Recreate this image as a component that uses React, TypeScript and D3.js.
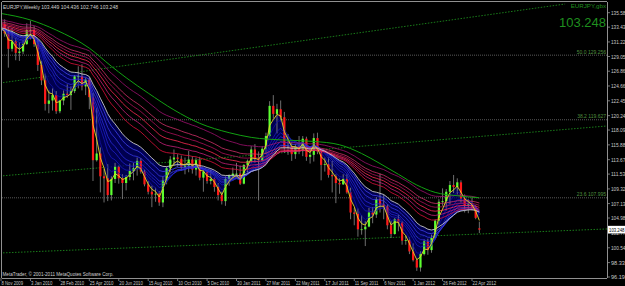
import React from "react";
import * as d3 from "d3";

const opens = [133.0,133.9,132.5,130.2,131.3,129.6,129.8,130.9,133.0,133.0,130.9,127.8,125.5,122.0,122.5,123.3,120.9,122.5,123.5,123.3,123.9,126.1,126.1,124.6,125.6,123.0,113.6,114.6,111.2,110.9,108.4,110.8,112.6,110.9,110.2,111.1,112.0,112.4,113.5,111.9,110.0,108.9,108.5,108.6,107.3,110.6,112.4,113.7,114.0,113.8,112.6,112.8,113.7,112.2,113.6,111.0,111.9,110.5,110.8,109.6,108.4,107.5,110.8,111.3,111.6,111.6,110.1,112.9,113.5,115.2,113.8,113.6,115.3,117.2,121.7,120.5,121.2,120.0,115.5,115.6,114.5,115.6,115.0,116.8,114.1,114.4,116.9,114.9,112.9,113.0,111.4,111.2,110.2,110.0,110.8,108.8,105.8,105.6,103.3,103.3,103.7,105.8,105.5,107.8,107.0,106.7,103.9,102.6,104.8,104.3,101.6,101.7,100.0,98.7,97.6,99.6,101.5,100.2,102.0,104.6,107.4,107.5,108.9,109.9,109.6,110.3,107.9,106.9,107.0,106.5,103.449];
const highs = [134.4,134.6,133.5,133.3,131.8,131.2,131.5,134.0,134.4,133.6,131.6,128.4,126.5,124.0,124.3,123.9,122.6,124.0,124.9,124.6,126.3,127.6,127.9,125.9,125.9,123.6,121.4,115.5,112.3,113.0,111.2,113.2,112.8,111.5,111.4,113.1,113.2,114.0,113.9,112.2,110.5,109.8,109.5,109.0,111.2,112.6,114.2,115.2,114.5,114.3,114.0,115.0,114.2,114.0,114.1,112.3,112.0,112.2,111.0,110.2,108.9,111.2,111.5,112.5,113.2,112.8,113.0,113.7,115.7,116.0,114.9,115.7,117.7,122.4,123.3,122.0,122.5,120.8,117.5,116.3,116.0,117.2,117.2,117.1,115.7,117.6,117.7,115.0,114.0,114.0,113.5,111.5,110.9,111.5,111.5,109.5,106.5,106.4,105.4,104.5,106.5,106.6,108.1,111.6,108.5,107.0,104.6,105.0,105.4,104.5,102.4,102.1,101.2,98.9,100.0,101.8,101.9,102.5,104.8,107.8,109.4,109.3,110.5,111.4,110.9,110.6,108.5,107.8,108.0,106.9,104.436];
const lows = [132.3,132.0,127.4,129.8,128.5,128.4,129.4,130.8,131.6,130.5,126.9,124.8,121.0,120.6,121.0,120.5,120.6,121.8,122.9,121.1,123.6,124.3,124.0,123.3,121.2,110.5,113.4,108.8,107.3,107.5,107.6,110.2,110.1,107.8,109.1,110.6,110.6,111.3,111.6,109.7,108.5,106.6,107.4,106.8,106.6,110.0,111.8,112.8,112.6,112.0,111.5,111.8,111.6,111.3,110.6,108.9,110.1,110.0,108.9,107.6,107.0,106.8,109.8,110.5,111.0,109.9,110.0,111.7,113.2,113.2,107.6,113.4,114.5,117.0,119.8,117.6,119.4,114.7,114.4,113.5,113.8,114.5,114.2,113.5,113.1,113.4,114.5,110.6,111.9,111.0,108.8,107.2,108.6,109.9,108.6,104.8,103.9,102.2,102.5,100.8,103.6,104.2,105.0,105.8,104.8,103.3,102.0,102.5,103.0,101.0,101.0,99.6,98.5,97.1,97.0,99.4,99.5,99.8,101.8,104.0,106.8,106.1,107.0,108.7,108.5,107.3,105.8,105.7,106.1,104.8,102.746];
const closes = [133.9,132.5,130.2,131.3,129.6,129.8,130.9,133.0,133.0,130.9,127.8,125.5,122.0,122.5,123.3,120.9,122.5,123.5,123.3,123.9,126.1,126.1,124.6,125.6,123.0,113.6,114.6,111.2,110.9,108.4,110.8,112.6,110.9,110.2,111.1,112.0,112.4,113.5,111.9,110.0,108.9,108.5,108.6,107.3,110.6,112.4,113.7,114.0,113.8,112.6,112.8,113.7,112.2,113.6,111.0,111.9,110.5,110.8,109.6,108.4,107.5,110.8,111.3,111.6,111.6,110.1,112.9,113.5,115.2,113.8,113.6,115.3,117.2,121.7,120.5,121.2,120.0,115.5,115.6,114.5,115.6,115.0,116.8,114.1,114.4,116.9,114.9,112.9,113.0,111.4,111.2,110.2,110.0,110.8,108.8,105.8,105.6,103.3,103.3,103.7,105.8,105.5,107.8,107.0,106.7,103.9,102.6,104.8,104.3,101.6,101.7,100.0,98.7,97.6,99.6,101.5,100.2,102.0,104.6,107.4,107.5,108.9,109.9,109.6,110.3,107.9,106.9,107.0,106.5,105.0,103.248];

const dateLabels = ["8 Nov 2009","3 Jan 2010","28 Feb 2010","25 Apr 2010","20 Jun 2010","15 Aug 2010","10 Oct 2010","5 Dec 2010","30 Jan 2011","27 Mar 2011","22 May 2011","17 Jul 2011","11 Sep 2011","6 Nov 2011","1 Jan 2012","26 Feb 2012","22 Apr 2012"];
const dateLabelBars = [0,8,16,24,32,40,48,56,64,72,80,88,96,104,112,120,128];

const priceTicks = [135.585,133.435,131.225,129.055,126.865,124.660,122.450,120.240,118.095,115.885,113.675,111.530,109.320,107.135,104.980,102.770,100.545,98.335,96.190];

const fastPeriods = [5,8,10,12,15,18];
const fastSeeds = [133.0,133.0,133.1,133.1,133.2,133.2];
const slowPeriods = [30,35,40,45,50,60];
const slowSeeds = [133.4,133.6,133.8,134.0,134.2,134.5];
const slowColors = ["#e0103c","#c8207a","#ff2a55","#b0105a","#d0306a","#a01070"];
const yellowPeriod = 3;
const whitePeriod = 21;

// slow green average at these bars
const greenBars = [-0.3,8,15,24,30,34,40,47,54,62,68,77,85,92,98,103,108,113,118,124,130];
const greenValues = [135.5,134.5,133.0,130.3,127.6,125.9,123.6,121.1,119.1,117.7,117.0,116.6,116.4,115.9,114.6,113.1,111.5,109.9,108.8,108.3,108.0];

const fibLabels = ["50.0 129.256","38.2 119.627","23.6 107.995"];
const fibValues = [129.256,119.627,107.995];

// trend lines: [barA, priceA, barB, priceB]
const trendA = [-0.27,125.10,153.3,136.88];
const trendB = [-0.27,111.24,164.7,118.70];
const trendC = [-0.27,99.77,164.7,103.35];

function ema(period: number, seed: number): number[] {
  const a = 2 / (period + 1);
  const out: number[] = [];
  let e = seed;
  closes.forEach((c, i) => {
    if (i > 0) e = e + a * (c - e);
    out.push(e);
  });
  return out;
}

export default function App() {
  const W = 625, H = 286;
  const left = 2, right = 607, top = 2, bottom = 278;
  const x = d3.scaleLinear().domain([0, 128]).range([1, 472]);
  const y = d3.scaleLinear().domain([96.19, 135.585]).range([277, 12.7]);
  const line = d3.line<number>().x((_, i) => x(i)).y((d) => y(d));
  const gLine = d3.line<number>().x((_, i) => x(greenBars[i])).y((d) => y(d)).curve(d3.curveMonotoneX);

  const fast = fastPeriods.map((p, k) => ema(p, fastSeeds[k]));
  const slow = slowPeriods.map((p, k) => ema(p, slowSeeds[k]));
  const yel = ema(yellowPeriod, 133.2);
  const wht = ema(whitePeriod, 133.3);

  const area = d3.area<number>().x((_, i) => x(i)).y0((d) => y(d)).y1((_, i) => y(wht[i]));
  const blueCols = ["#1010a0","#1818b8","#2020c8","#2a2ad8","#3535e0","#4040f0"];
  const font = "'Liberation Sans', Arial, sans-serif";
  const tl = (t: number[]) => ({ x1: x(t[0]), y1: y(t[1]), x2: x(t[2]), y2: y(t[3]) });
  const last = closes[closes.length - 1];

  return (
    <svg width={W} height={H} style={{ position: "absolute", left: 0, top: 0, background: "#000" }} fontFamily={font}>
      <rect x={0} y={0} width={W} height={H} fill="#000" />
      <defs>
        <clipPath id="plot"><rect x={left} y={top} width={right - left} height={bottom - top} /></clipPath>
      </defs>
      <g clipPath="url(#plot)">
        {fibValues.map((v, k) => (
          <line key={"f" + k} x1={left} x2={right} y1={y(v)} y2={y(v)} stroke="#707070" strokeWidth={0.8} strokeDasharray="1,1" />
        ))}
        {[trendA, trendB, trendC].map((t, k) => (
          <line key={"t" + k} {...tl(t)} stroke="#1f9a1f" strokeWidth={0.8} strokeDasharray="1.5,1.5" />
        ))}
        <path d={area(yel) || ""} fill="#00006a" opacity={0.75} />
        {closes.map((c, i) => {
          const o = opens[i];
          const up = c >= o;
          const cx = x(i);
          return (
            <g key={"c" + i}>
              <line x1={cx} x2={cx} y1={y(highs[i])} y2={y(lows[i])} stroke="#8a8a8a" strokeWidth={0.8} />
              <rect x={cx - 1.1} width={2.2} y={y(Math.max(o, c))} height={Math.max(0.8, Math.abs(y(o) - y(c)))} fill={up ? "#5cff30" : "#ff1a1a"} />
            </g>
          );
        })}
        {fast.map((s, k) => (
          <path key={"b" + k} d={line(s) || ""} fill="none" stroke={blueCols[k]} strokeWidth={0.8} />
        ))}
        {slow.map((s, k) => (
          <path key={"r" + k} d={line(s) || ""} fill="none" stroke={slowColors[k]} strokeWidth={0.8} />
        ))}
        <path d={line(wht) || ""} fill="none" stroke="#c8c8c8" strokeWidth={0.9} />
        <path d={line(yel) || ""} fill="none" stroke="#e8d820" strokeWidth={0.9} />
        <path d={gLine(greenValues) || ""} fill="none" stroke="#12a012" strokeWidth={1} />
      </g>
      {/* frame */}
      <line x1={left} x2={right} y1={top - 0.5} y2={top - 0.5} stroke="#909090" strokeWidth={1} />
      <line x1={left - 0.5} x2={left - 0.5} y1={top} y2={bottom} stroke="#909090" strokeWidth={1} />
      <line x1={right + 0.5} x2={right + 0.5} y1={top} y2={bottom} stroke="#909090" strokeWidth={1} />
      <line x1={left} x2={right} y1={bottom + 0.5} y2={bottom + 0.5} stroke="#909090" strokeWidth={1} />
      {/* y axis */}
      {priceTicks.map((v, k) => (
        <g key={"y" + k}>
          <line x1={right} x2={right + 3} y1={y(v)} y2={y(v)} stroke="#909090" strokeWidth={0.8} />
          <text x={611} y={y(v) + 2} fontSize={5.6} fill="#c8c8c8" textLength={17} lengthAdjust="spacingAndGlyphs">{v.toFixed(3)}</text>
        </g>
      ))}
      <rect x={608} y={y(last) - 3.8} width={17} height={7.6} fill="#ffffff" />
      <text x={609} y={y(last) + 2} fontSize={5.6} fill="#000" textLength={15.5} lengthAdjust="spacingAndGlyphs">{last.toFixed(3)}</text>
      {/* x axis */}
      {dateLabels.map((d, k) => (
        <g key={"x" + k}>
          <line x1={x(dateLabelBars[k])} x2={x(dateLabelBars[k])} y1={bottom} y2={bottom + 3} stroke="#909090" strokeWidth={0.8} />
          <text x={x(dateLabelBars[k]) + 0.5} y={284.5} fontSize={5.4} fill="#c8c8c8" textLength={d.length * 2.15} lengthAdjust="spacingAndGlyphs">{d}</text>
        </g>
      ))}
      {/* texts */}
      <text x={3} y={8.5} fontSize={5.6} fill="#d0d0d0" textLength={115} lengthAdjust="spacingAndGlyphs">EURJPY,Weekly  103.449 104.436 102.746 103.248</text>
      <text x={2.5} y={275.5} fontSize={5.4} fill="#d0d0d0" textLength={111} lengthAdjust="spacingAndGlyphs">MetaTrader, © 2001-2011 MetaQuotes Software Corp.</text>
      <text x={606} y={8} fontSize={6.2} fill="#1f8f1f" textAnchor="end">EURJPY,gbx</text>
      <text x={606} y={27} fontSize={13} fill="#1f8f1f" textAnchor="end">{last.toFixed(3)}</text>
      {fibLabels.map((t, k) => (
        <text key={"fl" + k} x={606} y={y(fibValues[k]) - 1.5} fontSize={5} fill="#4f8f3f" textAnchor="end">{t}</text>
      ))}
    </svg>
  );
}
